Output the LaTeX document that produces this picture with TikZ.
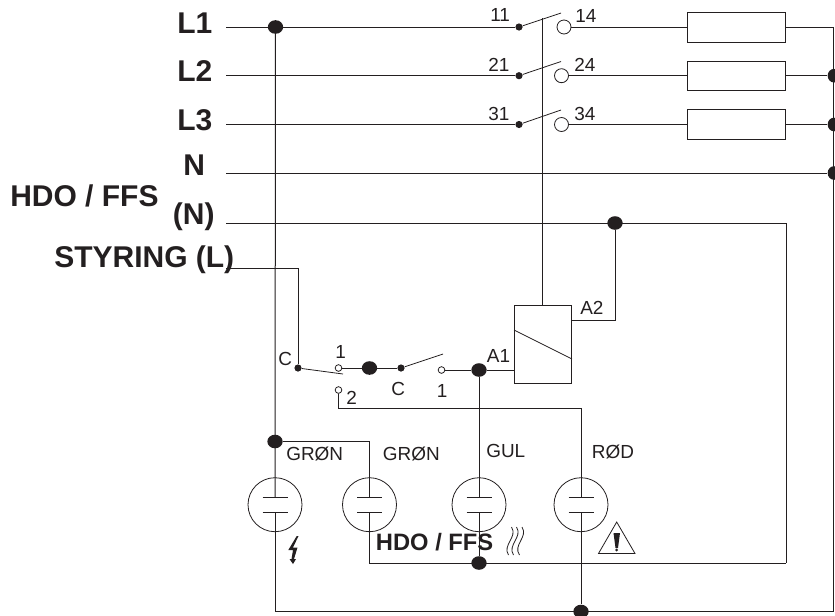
\documentclass[tikz,border=0pt]{standalone}
\usepackage{fontspec}
\setmainfont{Liberation Sans}
\usetikzlibrary{shapes.geometric}
\definecolor{ink}{HTML}{231F20}
\tikzset{
	wire/.style={draw=ink,line width=0.75pt},
	thinwire/.style={draw=ink,line width=0.6pt},
	bigdot/.style={ellipse,fill=ink,inner sep=0pt,minimum width=11.5pt,minimum height=10.2pt},
	smalldot/.style={circle,fill=ink,inner sep=0pt,minimum size=5.4pt},
	opencontact/.style={circle,draw=ink,line width=0.6pt,fill=white,inner sep=0pt,minimum size=10.5pt},
	tinycontact/.style={circle,draw=ink,line width=0.6pt,fill=white,inner sep=0pt,minimum size=5pt},
	fusebox/.style={rectangle,draw=ink,line width=0.75pt,inner sep=0pt,minimum width=73.5pt,minimum height=21.8pt},
	lamp/.style={circle,draw=ink,line width=0.6pt,inner sep=0pt,minimum size=40.5pt},
	biglabel/.style={anchor=base west,inner sep=0pt,text=ink,font=\fontsize{22.5}{27}\selectfont\bfseries},
	midlabel/.style={anchor=base west,inner sep=0pt,text=ink,font=\fontsize{17.8}{21}\selectfont\bfseries},
	smalllabel/.style={anchor=base west,inner sep=0pt,text=ink,font=\fontsize{14.2}{17}\selectfont}
}

\begin{document}
\begin{tikzpicture}[x=0.75pt,y=-0.75pt]
		\useasboundingbox (0,0) rectangle (835,615);
		%%  Supply labels  %%%%%%%%
		\node[biglabel] (labelA) at (177,33) {L1};
		\node[biglabel] (labelB) at (177,81.7) {L2};
		\node[biglabel] (labelC) at (177,130) {L3};
		\node[biglabel] (labelN) at (183,175.7) {N};
		\node[biglabel] (labelHdo) at (10,206.7) {HDO / FFS};
		\node[biglabel] (labelHdoN) at (172.7,224) {(N)};
		\node[biglabel] (labelCtrl) at (54,267.7) {STYRING (L)};
		\coordinate (startA) at (226,27);
		\coordinate (startB) at (226,75.7);
		\coordinate (startC) at (226,124.5);
		\coordinate (startN) at (226,173);
		\coordinate (startHdo) at (226,223);
		\coordinate (startCtrl) at (226,268);
		%%  Contactor rows  %%%%%%%%
		\node[smalldot] (contactA) at (519,27) {};
		\node[smalldot] (contactB) at (519,75.7) {};
		\node[smalldot] (contactC) at (519,124.5) {};
		\coordinate (bladeA) at (561,13);
		\coordinate (bladeB) at (561,61.5);
		\coordinate (bladeC) at (561,110);
		\node[opencontact] (openA) at (564,27) {};
		\node[opencontact] (openB) at (561.5,75.7) {};
		\node[opencontact] (openC) at (561.5,124.5) {};
		\node[fusebox] (fuseA) at (736,27.5) {};
		\node[fusebox] (fuseB) at (736,75.7) {};
		\node[fusebox] (fuseC) at (736,124.5) {};
		\node[smalllabel] (numA) at (490,21.7) {11};
		\node[smalllabel] (numAb) at (575,22) {14};
		\node[smalllabel] (numB) at (488,71) {21};
		\node[smalllabel] (numBb) at (574,71) {24};
		\node[smalllabel] (numC) at (488,120) {31};
		\node[smalllabel] (numCb) at (574,120) {34};
		%%  Right and left rails  %%%%%%%%
		\node[bigdot] (dotLeft) at (275.5,27) {};
		\node[bigdot,minimum width=9.5pt] (railB) at (834,75.7) {};
		\node[bigdot,minimum width=9.5pt] (railC) at (834,124.5) {};
		\node[bigdot,minimum width=9.5pt] (railN) at (834,173) {};
		\coordinate (railTop) at (833,27);
		\coordinate (railEnd) at (833,611.5);
		\coordinate (railCorner) at (275,611.5);
		\node[bigdot] (dotBottom) at (581,611.5) {};
		\draw[wire] (startA) -- (contactA);
		\draw[wire] (startB) -- (contactB);
		\draw[wire] (startC) -- (contactC);
		\draw[wire] (startN) -- (railN);
		\draw[thinwire] (contactA) -- (bladeA);
		\draw[thinwire] (contactB) -- (bladeB);
		\draw[thinwire] (contactC) -- (bladeC);
		\draw[wire] (openA) -- (fuseA.west |- openA);
		\draw[wire] (openB) -- (fuseB);
		\draw[wire] (openC) -- (fuseC);
		\draw[wire] (fuseA.east |- railTop) -- (railTop) -- (railEnd) -- (railCorner);
		\draw[wire] (fuseB) -- (railB);
		\draw[wire] (fuseC) -- (railC);
		%%  Coil  %%%%%%%%
		\node[rectangle,draw=ink,line width=0.75pt,inner sep=0pt,minimum width=43.3pt,minimum height=58.5pt] (coil) at (543,344) {};
		\coordinate (coilMechTop) at (542,18);
		\coordinate (coilSlashA) at (514,330);
		\coordinate (coilSlashB) at (572,359);
		\draw[wire] (coilMechTop) -- (coilMechTop |- coil.north);
		\draw[thinwire] (coilSlashA) -- (coilSlashB);
		\node[smalllabel] (labelAtwo) at (580,314) {A2};
		\node[smalllabel] (labelAone) at (486.7,362.7) {A1};
		\node[bigdot] (dotHdo) at (615,223) {};
		\coordinate (hdoCorner) at (786,223);
		\coordinate (hdoLow) at (786,563);
		\coordinate (coilAtwoBend) at (615,320);
		\coordinate (coilAtwo) at (571.7,320);
		\draw[wire] (startHdo) -- (hdoCorner) -- (hdoLow);
		\draw[wire] (dotHdo) -- (coilAtwoBend) -- (coilAtwo);
		%%  Selector  %%%%%%%%
		\node[smalldot] (selC) at (298,368) {};
		\node[tinycontact] (selOne) at (338.5,368) {};
		\node[tinycontact] (selTwo) at (338.5,390) {};
		\node[bigdot] (dotMid) at (369.5,368) {};
		\node[smalldot] (selCb) at (401,368) {};
		\node[tinycontact] (selOneb) at (441.5,370) {};
		\node[bigdot] (dotAone) at (479,370) {};
		\coordinate (ctrlBend) at (298,268);
		\coordinate (selBlade) at (343,374);
		\coordinate (selBladeb) at (443,354);
		\coordinate (twoBend) at (338.5,408);
		\coordinate (twoEnd) at (581,408);
		\draw[wire] (startCtrl) -- (ctrlBend) -- (selC);
		\draw[thinwire] (selC) -- (selBlade);
		\draw[thinwire] (selCb) -- (selBladeb);
		\draw[wire] (selOne) -- (dotMid) -- (selCb);
		\draw[wire] (selOneb) -- (dotAone) -- (coil.west |- dotAone);
		\draw[wire] (selTwo) -- (twoBend) -- (twoEnd);
		\node[smalllabel] (labelCa) at (278,365) {C};
		\node[smalllabel] (labelOne) at (335,358) {1};
		\node[smalllabel] (labelCb) at (391,395) {C};
		\node[smalllabel] (labelOneb) at (436.7,397) {1};
		\node[smalllabel] (labelTwo) at (346,404) {2};
		%%  Lamps  %%%%%%%%
		\node[lamp] (lampA) at (275,504.7) {};
		\node[lamp] (lampB) at (369.5,504.7) {};
		\node[lamp] (lampC) at (479,504.7) {};
		\node[lamp] (lampD) at (581,504.7) {};
		\coordinate (lampAup) at (275,497.7);
		\coordinate (lampAlo) at (275,512);
		\coordinate (lampBup) at (369.5,497.7);
		\coordinate (lampBlo) at (369.5,512);
		\coordinate (lampCup) at (479,497.7);
		\coordinate (lampClo) at (479,512);
		\coordinate (lampDup) at (581,497.7);
		\coordinate (lampDlo) at (581,512);
		\draw[thinwire] (lampAup) ++(-12.5,0) -- ++(25,0) (lampAlo) ++(-12.5,0) -- ++(25,0);
		\draw[thinwire] (lampBup) ++(-12.5,0) -- ++(25,0) (lampBlo) ++(-12.5,0) -- ++(25,0);
		\draw[thinwire] (lampCup) ++(-12.5,0) -- ++(25,0) (lampClo) ++(-12.5,0) -- ++(25,0);
		\draw[thinwire] (lampDup) ++(-12.5,0) -- ++(25,0) (lampDlo) ++(-12.5,0) -- ++(25,0);
		\node[bigdot] (dotGreen) at (275,441.5) {};
		\node[bigdot] (dotCommon) at (479,563) {};
		\coordinate (greenBend) at (369.5,441.5);
		\coordinate (lowBend) at (369.5,563);
		\draw[wire] (dotLeft) -- (lampAup);
		\draw[wire] (lampAlo) -- (railCorner);
		\draw[wire] (dotGreen) -- (greenBend) -- (lampBup);
		\draw[wire] (lampBlo) -- (lowBend) -- (hdoLow);
		\draw[wire] (dotAone) -- (lampCup);
		\draw[wire] (lampClo) -- (dotCommon);
		\draw[wire] (twoEnd) -- (lampDup);
		\draw[wire] (lampDlo) -- (dotBottom);
		\node[smalllabel] (nameA) at (286,460) {GRØN};
		\node[smalllabel] (nameB) at (382.7,460) {GRØN};
		\node[smalllabel] (nameC) at (486,457.7) {GUL};
		\node[smalllabel] (nameD) at (591.7,458) {RØD};
		\node[midlabel] (labelHdoLow) at (375.7,550.7) {HDO / FFS};
		%%  Symbols  %%%%%%%%
		\fill[ink] (296.7,536) -- (288.3,550) -- (293,550) -- (291.5,559) -- (289.5,559) -- (293,564) -- (296,559) -- (294,559) -- (297.5,547.5) -- (293,547.5) -- (298.5,536) -- cycle;
		\draw[thinwire] (511.5,527) .. controls (518,537) and (502,545) .. (508.5,555);
		\draw[thinwire] (516.5,527) .. controls (523,537) and (507,545) .. (513.5,555);
		\draw[thinwire] (522,527) .. controls (528.5,537) and (512.5,545) .. (519.5,555);
		\draw[thinwire] (616.7,522) -- (598.5,553.5) -- (635,553.5) -- cycle;
		\fill[ink] (613.5,533) -- (620,533) -- (618,548) -- (615.5,548) -- cycle;
		\fill[ink] (616.7,550) circle (1.5);
		%%%%%%%%%%%%%%%
\end{tikzpicture}
\end{document}
